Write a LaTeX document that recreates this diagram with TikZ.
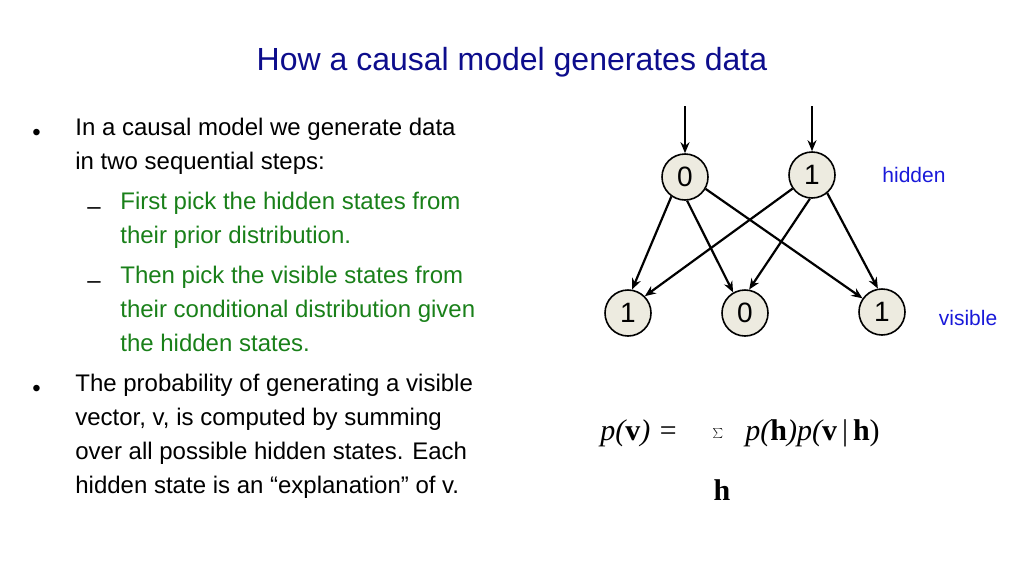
\documentclass[tikz,border=0pt]{standalone}
\usepackage{fontspec}
\setmainfont{Liberation Sans}
\newfontfamily\eqfont{Liberation Serif}
\usetikzlibrary{arrows.meta}
\definecolor{titleblue}{rgb}{0.05,0.05,0.55}
\definecolor{lblue}{rgb}{0.1,0.1,0.85}
\definecolor{sgreen}{rgb}{0.1,0.5,0.1}
\definecolor{unitfill}{rgb}{0.93,0.92,0.88}
\tikzset{every picture/.style={line width=0.75pt}}
\newcommand{\vb}[1]{{\upshape\bfseries #1}}
\begin{document}
\begin{tikzpicture}[x=1pt,y=1pt,yscale=-1,
  unit/.style={circle,draw,line width=1.6pt,fill=unitfill,minimum size=46pt,inner sep=0pt,font=\fontsize{28}{30}\selectfont},
  wire/.style={line width=2.2pt,-{Stealth[length=11pt,width=9pt]}},
  body/.style={anchor=north west,inner sep=0pt,font=\fontsize{24}{34}\selectfont,align=left},
  eq/.style={inner sep=0pt,font=\eqfont\itshape\fontsize{30}{32}\selectfont}]
\useasboundingbox (0,0) rectangle (1024,576);

% Title
\node (title) at (512,62) [text=titleblue,font=\fontsize{32}{36}\selectfont] {How a causal model generates data};

% Text
\node (b1) at (32,140) [body,anchor=base west] {•};
\node (t1) at (75,118) [body] {In a causal model we generate data\\in two sequential steps:};
\node (d1) at (87,214) [body,anchor=base west] {–};
\node (t2) at (120,192) [body,text=sgreen] {First pick the hidden states from\\their prior distribution.};
\node (d2) at (87,288) [body,anchor=base west] {–};
\node (t3) at (120,266) [body,text=sgreen] {Then pick the visible states from\\their conditional distribution given\\the hidden states.};
\node (b2) at (32,396) [body,anchor=base west] {•};
\node (t4) at (75,374) [body] {The probability of generating a visible\\vector, v, is computed by summing\\over all possible hidden states. Each\\hidden state is an “explanation” of v.};

% Units
\node (h0) at (685,177) [unit] {0};
\node (h1) at (812,175) [unit] {1};
\node (v1) at (628,313) [unit] {1};
\node (v0) at (745,313) [unit] {0};
\node (v2) at (882,312) [unit] {1};
\coordinate (in0) at (685,106);
\coordinate (in1) at (812,106);

\node (hid) at (914,175) [text=lblue,font=\fontsize{21}{24}\selectfont] {hidden};
\node (vis) at (968,318) [text=lblue,font=\fontsize{21}{24}\selectfont] {visible};

% Connections
\draw [wire] (in0) -- (h0);
\draw [wire] (in1) -- (h1);
\draw [wire] (h0.235) -- (v1.80);
\draw [wire] (h0.275) -- (v0.120);
\draw [wire] (h0.330) -- (v2.145);
\draw [wire] (h1.215) -- (v1.45);
\draw [wire] (h1.265) -- (v0.80);
\draw [wire] (h1.310) -- (v2.100);

% Formula
\node (lhs) at (600,440) [eq,anchor=base west] {p(\vb{v}) =};
\node (sum) at (718,440) [inner sep=0pt,anchor=base,font=\fontsize{60}{60}\selectfont] {$\sum$};
\node (hsub) at (722,500) [eq,anchor=base] {\vb{h}};
\node (rhs) at (745,440) [eq,anchor=base west] {p(\vb{h})p(\vb{v}\,\upshape|\,\vb{h})};
\end{tikzpicture}
\end{document}
